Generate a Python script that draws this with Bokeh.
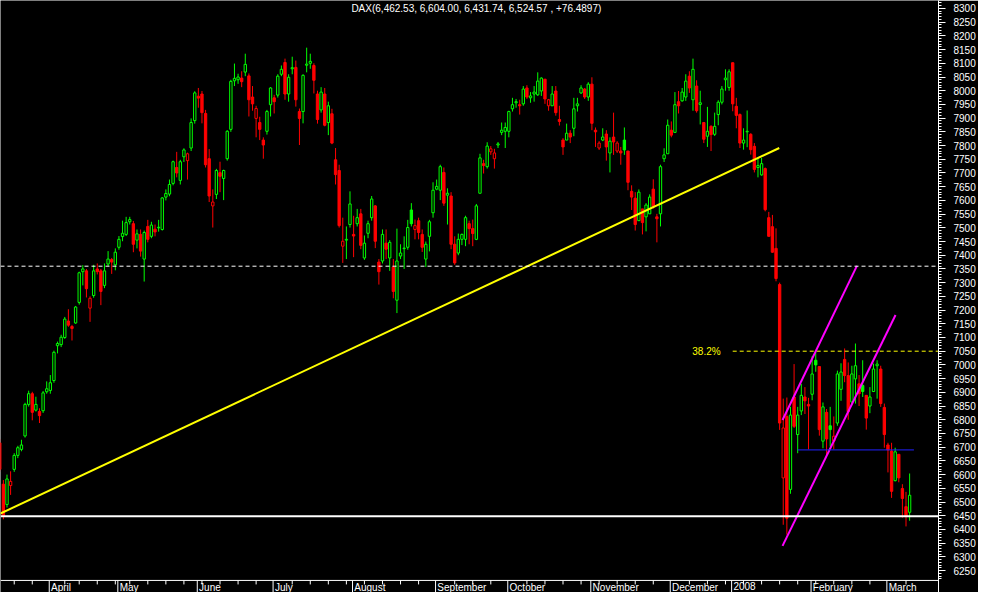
import numpy as np
import pandas as pd
from bokeh.plotting import figure
from bokeh.models import Range1d, FixedTicker, Span
from bokeh.core.properties import value
from bokeh.embed import file_html
from bokeh.resources import INLINE

# ---------------- data (DAX daily candles, 13 Mar 2007 - 11 Mar 2008) ----------------
holidays = ["2007-04-06", "2007-04-09", "2007-05-01", "2007-12-24", "2007-12-25",
            "2007-12-26", "2007-12-31", "2008-01-01"]

opens = [6716, 6565, 6491, 6560, 6619, 6670, 6692, 6741, 6856, 6895, 6835, 6830, 6833, 6902,
         6907, 6943, 7070, 7074, 7100, 7160, 7140, 7153, 7228, 7340, 7343, 7207, 7253, 7350, 7343, 7290, 7368, 7384, 7365,
         7429, 7468, 7476, 7522, 7515, 7455, 7476, 7386, 7505, 7469, 7495, 7500, 7494, 7612, 7623, 7662, 7720, 7673, 7759, 7745, 7791, 7891,
         7980, 7988, 7917, 7752, 7580, 7622, 7701, 7680, 7752, 7859, 8036, 8040, 8046, 8068, 8054, 7977, 7899, 7884, 7820, 7852, 7949,
         7974, 7984, 8060, 8103, 7988, 8080, 8085, 7924, 7924, 8093, 8100, 8092, 7988, 7930, 7988, 7884, 7916, 7748, 7709, 7433, 7455, 7512, 7476,
         7515, 7551, 7390, 7480, 7537, 7580, 7375, 7379, 7444, 7390, 7357, 7236, 7397, 7424, 7429, 7565, 7494, 7526, 7476, 7386, 7469, 7555,
         7641, 7637, 7702, 7619, 7616, 7440, 7408, 7458, 7458, 7515, 7497, 7458, 7626, 7734, 7723, 7777, 7752, 7802, 7848, 7852,
         7852, 7934, 7956, 7949, 7952, 8010, 7974, 7988, 7985, 7999, 8042, 7945, 7945, 7999, 7895, 7820, 7820, 7845, 7863, 7945, 7992, 8006, 7977,
         8024, 7856, 7791, 7820, 7842, 7773, 7831, 7780, 7780, 7820, 7780, 7633, 7608, 7526, 7569, 7540, 7551, 7641, 7540, 7551, 7752, 7770,
         7856, 7848, 7960, 7963, 7977, 8053, 7967, 8017, 7950, 7884, 7834, 7870, 7841, 7913, 7958, 8040, 8012,
         8102, 7943, 7913, 7809, 7850, 7841, 7797, 7720, 7693, 7716, 7537, 7504, 7425, 7293, 6588, 6812, 6546, 6883, 6746, 6832, 6883, 6856,
         6893, 7017, 6994, 6722, 6827, 6778, 6722, 6788, 6911, 7020, 6961, 6865, 6949, 6931, 6925, 6889, 6850, 6903, 6997, 6985, 6845,
         6708, 6686, 6578, 6674, 6549, 6483, 6462.53]
highs = [6730, 6580, 6600, 6612, 6678, 6705, 6727, 6862, 6906, 6902, 6884, 6842, 6905, 6940,
         6963, 7052, 7085, 7110, 7175, 7203, 7146, 7215, 7340, 7364, 7350, 7250, 7365, 7370, 7350, 7370, 7415, 7390, 7425,
         7470, 7526, 7540, 7540, 7525, 7494, 7494, 7490, 7529, 7522, 7512, 7529, 7612, 7640, 7676, 7745, 7777, 7748, 7790, 7774, 7899, 7998,
         8010, 7999, 7930, 7787, 7640, 7715, 7741, 7712, 7856, 8040, 8099, 8062, 8071, 8135, 8063, 8017, 7945, 7905, 7830, 7930, 8013,
         7985, 8060, 8092, 8117, 8060, 8124, 8110, 7935, 8060, 8157, 8135, 8100, 8000, 8013, 8010, 7960, 7934, 7791, 7730, 7537, 7505, 7633, 7544,
         7569, 7569, 7472, 7526, 7616, 7583, 7386, 7494, 7494, 7455, 7386, 7497, 7440, 7469, 7529, 7590, 7530, 7537, 7494, 7450, 7529, 7666,
         7676, 7730, 7720, 7644, 7630, 7469, 7479, 7479, 7544, 7526, 7530, 7587, 7770, 7748, 7812, 7798, 7788, 7813, 7884, 7884,
         7927, 7974, 7970, 7967, 8017, 8020, 7995, 8017, 8067, 8049, 8042, 7970, 8017, 8017, 7945, 7827, 7880, 7856, 7974, 7974, 8020, 8010, 8031,
         8049, 7866, 7816, 7863, 7856, 7830, 7920, 7816, 7795, 7866, 7780, 7655, 7630, 7640, 7569, 7590, 7622, 7677, 7551, 7730, 7790, 7895,
         7888, 7995, 7999, 8010, 8060, 8071, 8117, 8038, 8000, 7886, 7941, 7874, 7920, 7965, 8017, 8078, 8078,
         8103, 7974, 7917, 7863, 7928, 7845, 7809, 7755, 7755, 7720, 7558, 7547, 7498, 7300, 6877, 6881, 6847, 7003, 6847, 6931, 6919, 6880,
         7032, 7048, 6994, 6863, 6839, 6847, 6812, 6979, 7006, 7060, 7009, 6997, 7078, 6963, 7017, 6889, 6919, 7005, 7017, 6997, 6859,
         6716, 6716, 6698, 6674, 6565, 6537, 6604.00]
lows = [6610, 6437, 6480, 6526, 6610, 6660, 6685, 6735, 6848, 6798, 6830, 6788, 6825, 6895,
        6895, 6935, 7042, 7065, 7095, 7139, 7089, 7150, 7220, 7290, 7246, 7157, 7245, 7330, 7218, 7280, 7360, 7332, 7345,
        7420, 7451, 7470, 7512, 7411, 7425, 7395, 7304, 7447, 7462, 7469, 7486, 7490, 7600, 7615, 7655, 7684, 7658, 7740, 7676, 7780, 7880,
        7938, 7881, 7720, 7594, 7501, 7605, 7630, 7601, 7745, 7850, 8017, 8025, 8013, 8053, 7906, 7927, 7830, 7820, 7752, 7840, 7906,
        7917, 7975, 8053, 7967, 7960, 8060, 7942, 7802, 7881, 8067, 8080, 7990, 7880, 7920, 7870, 7838, 7805, 7658, 7501, 7372, 7386, 7501, 7393,
        7505, 7422, 7383, 7462, 7526, 7426, 7293, 7370, 7386, 7343, 7243, 7189, 7386, 7350, 7420, 7505, 7458, 7458, 7412, 7357, 7414, 7537,
        7637, 7601, 7580, 7512, 7422, 7365, 7400, 7437, 7433, 7440, 7433, 7455, 7626, 7698, 7716, 7766, 7716, 7791, 7838, 7791,
        7830, 7924, 7938, 7913, 7945, 7970, 7956, 7960, 7981, 7981, 7952, 7927, 7945, 7909, 7873, 7766, 7820, 7809, 7834, 7924, 7988, 7970, 7963,
        7856, 7795, 7784, 7816, 7745, 7702, 7766, 7773, 7730, 7766, 7637, 7565, 7490, 7526, 7476, 7487, 7551, 7570, 7447, 7505, 7740, 7770,
        7830, 7848, 7917, 7960, 7963, 7992, 7927, 7920, 7877, 7809, 7795, 7780, 7835, 7874, 7950, 8000, 8000,
        7925, 7863, 7791, 7785, 7794, 7767, 7702, 7684, 7690, 7560, 7469, 7409, 7305, 6763, 6417, 6381, 6530, 6770, 6678, 6817, 6821, 6692,
        6871, 6975, 6742, 6696, 6666, 6702, 6692, 6778, 6869, 6937, 6800, 6862, 6859, 6850, 6883, 6764, 6824, 6901, 6877, 6847, 6698,
        6608, 6515, 6575, 6572, 6443, 6411, 6431.74]
closes = [6619, 6447, 6584, 6575, 6670, 6698, 6708, 6856, 6895, 6827, 6856, 6815, 6898, 6913,
          6935, 7046, 7078, 7101, 7167, 7145, 7133, 7211, 7336, 7350, 7278, 7243, 7343, 7340, 7268, 7343, 7386, 7375, 7411,
          7458, 7480, 7519, 7530, 7440, 7478, 7415, 7483, 7458, 7510, 7485, 7502, 7609, 7625, 7658, 7741, 7700, 7741, 7784, 7770, 7884, 7992,
          7973, 7920, 7730, 7616, 7594, 7709, 7688, 7709, 7852, 8034, 8045, 8050, 8033, 8096, 7967, 7952, 7935, 7859, 7802, 7924, 8010,
          7960, 8053, 8078, 7988, 8049, 8084, 7967, 7899, 8056, 8097, 8107, 8038, 7895, 7995, 7874, 7945, 7809, 7694, 7508, 7451, 7458, 7587, 7470,
          7537, 7436, 7444, 7515, 7605, 7451, 7340, 7476, 7422, 7447, 7268, 7379, 7408, 7426, 7501, 7515, 7508, 7483, 7429, 7440, 7522, 7637,
          7651, 7723, 7590, 7626, 7440, 7372, 7458, 7476, 7537, 7497, 7479, 7580, 7755, 7727, 7798, 7788, 7773, 7806, 7856, 7866,
          7924, 7949, 7960, 7945, 8006, 7977, 7981, 7995, 8035, 8046, 7970, 7967, 7988, 7920, 7888, 7795, 7845, 7831, 7934, 7952, 8010, 7977, 8024,
          7881, 7850, 7809, 7831, 7795, 7816, 7813, 7809, 7773, 7784, 7666, 7612, 7512, 7630, 7519, 7583, 7612, 7576, 7533, 7723, 7766, 7874,
          7838, 7949, 7945, 7995, 8035, 8010, 8078, 7927, 7956, 7823, 7852, 7840, 7870, 7958, 8006, 8046, 8069,
          7952, 7910, 7809, 7820, 7852, 7785, 7713, 7727, 7734, 7566, 7469, 7411, 7315, 6788, 6770, 6441, 6817, 6776, 6817, 6889, 6869, 6850,
          6967, 7000, 6764, 6847, 6730, 6764, 6740, 6967, 6974, 6961, 6829, 6967, 6997, 6895, 6903, 6806, 6883, 6985, 7003, 6859, 6746,
          6690, 6539, 6683, 6588, 6513, 6448.08, 6524.57]

title_text = "DAX(6,462.53, 6,604.00, 6,431.74, 6,524.57 , +76.4897)"
price_ticks = list(range(6250, 8301, 50))
fib_label = "38.2%"

# annotation levels / lines (bar index, price)
support_level = 6448
resistance_level = 7360
fib_level = 7050
trend_pts = ([0.17, 215.9], [6458, 7791])
chan_a = ([216.8, 237.4], [6799, 7361])
chan_b = ([216.8, 248.1], [6340, 7182])
neck_pts = ([221.0, 253.2], [6690, 6690])
fib_x = (191.8, 203.0)
title_x = 132.0

# ---------------- derived ----------------
o = np.array(opens, float); h = np.array(highs, float)
l = np.array(lows, float); c = np.array(closes, float)
n = len(c)
assert len(o) == len(h) == len(l) == n, (len(o), len(h), len(l), n)
h = np.maximum(h, np.maximum(o, c)); l = np.minimum(l, np.minimum(o, c))

dates = pd.bdate_range("2007-03-13", "2008-03-11")
dates = dates[~dates.isin(pd.to_datetime(holidays))]
assert len(dates) == n, (len(dates), n)

idx = np.arange(n)
prev = np.r_[np.inf, c[:-1]]
GREEN, RED = "#00ff00", "#ff0000"
col = np.where(c > prev, GREEN, RED)
fill = np.where(c < o, col, "black")

Y_LO, Y_HI = 6170, 8329
FRAME_H = 592
PX = (Y_HI - Y_LO) / FRAME_H
AXIS_Y = 6214
X0, X1 = 0.2, 260.0

p = figure(frame_width=938, frame_height=FRAME_H, x_range=Range1d(X0, X1), y_range=Range1d(Y_LO, Y_HI),
           output_backend="svg", toolbar_location=None, x_axis_location=None, y_axis_location="right",
           background_fill_color="black", border_fill_color="black", min_border=0, outline_line_color=None)
p.grid.grid_line_color = None

ax = p.yaxis[0]
ax.ticker = FixedTicker(ticks=price_ticks, minor_ticks=list(range(6220, 8321, 10)))
ax.axis_line_color = "white"
ax.major_tick_line_color = "white"
ax.minor_tick_line_color = "white"
ax.major_tick_in = 0; ax.major_tick_out = 7
ax.minor_tick_in = 0; ax.minor_tick_out = 3
ax.major_label_standoff = 8
ax.major_label_text_color = "white"
ax.major_label_text_font = "Liberation Sans"
ax.major_label_text_font_size = "10px"

FONT = value("Liberation Sans")

# candles
p.segment(x0=idx, y0=l, x1=idx, y1=h, line_color=col, line_width=1)
p.vbar(x=idx, width=0.65, top=np.maximum(o, c), bottom=np.minimum(o, c),
       fill_color=fill, line_color=col, line_width=1)

# horizontal levels
p.add_layout(Span(location=resistance_level, dimension="width", line_color="white",
                  line_dash="4 3", line_width=1))
p.add_layout(Span(location=support_level, dimension="width", line_color="white", line_width=2))
p.add_layout(Span(location=AXIS_Y, dimension="width", line_color="white", line_width=1))
p.segment(x0=[fib_x[1]], y0=[fib_level], x1=[X1], y1=[fib_level], line_color="#ffff00",
          line_dash="4 3", line_width=1)
p.text(x=[fib_x[0]], y=[fib_level], text=[fib_label], text_color="#ffff00", text_font=FONT,
       text_font_size="10px", text_align="left", text_baseline="middle")

# trend lines
p.line(trend_pts[0], trend_pts[1], line_color="#ffff00", line_width=2)
p.line(chan_a[0], chan_a[1], line_color="#ff00ff", line_width=2)
p.line(chan_b[0], chan_b[1], line_color="#ff00ff", line_width=2)
p.line(neck_pts[0], neck_pts[1], line_color="#2020ff", line_width=1)

# title inside the chart
p.text(x=[title_x], y=[Y_HI - 2 * PX], text=[title_text], text_color="white", text_font=FONT,
       text_font_size="10px", text_align="center", text_baseline="top")

# bottom date strip: month separators, weekly ticks, month labels
mnames = {2: "February", 3: "March", 4: "April", 5: "May", 6: "June", 7: "July", 8: "August",
          9: "September", 10: "October", 11: "November", 12: "December"}
m_idx, m_lab, w_idx = [], [], []
for i in range(1, n):
    d, dp = dates[i], dates[i - 1]
    if d.month != dp.month:
        m_idx.append(i)
        m_lab.append(str(d.year) if d.month == 1 else mnames[d.month])
    elif d.to_period("W") != dp.to_period("W"):
        w_idx.append(i)
m_idx = np.array(m_idx, float); w_idx = np.array(w_idx, float)

p.segment(x0=m_idx - 0.3, y0=AXIS_Y, x1=m_idx - 0.3, y1=Y_LO, line_color="white", line_width=1)
p.segment(x0=w_idx, y0=AXIS_Y, x1=w_idx, y1=AXIS_Y - 4 * PX, line_color="white", line_width=1)
p.text(x=m_idx + 0.2, y=AXIS_Y - 1.5 * PX, text=m_lab, text_color="white", text_font=FONT,
       text_font_size="10px", text_align="left", text_baseline="top")

open("out.html", "w").write(file_html(p, INLINE))
